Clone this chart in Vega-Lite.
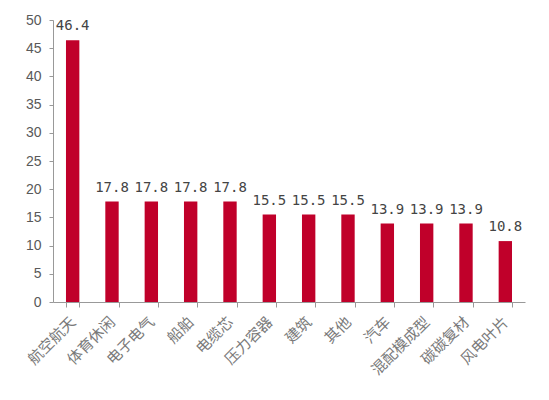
{
  "$schema": "https://vega.github.io/schema/vega-lite/v6.json",
  "width": 472,
  "height": 282,
  "autosize": {"type": "none"},
  "padding": {"left": 53, "top": 20, "right": 24, "bottom": 98},
  "background": "white",
  "config": {"view": {"stroke": null}, "font": "Noto Sans CJK SC"},
  "data": {
    "values": [
      {"category": "航空航天", "value": 46.4},
      {"category": "体育休闲", "value": 17.8},
      {"category": "电子电气", "value": 17.8},
      {"category": "船舶", "value": 17.8},
      {"category": "电缆芯", "value": 17.8},
      {"category": "压力容器", "value": 15.5},
      {"category": "建筑", "value": 15.5},
      {"category": "其他", "value": 15.5},
      {"category": "汽车", "value": 13.9},
      {"category": "混配模成型", "value": 13.9},
      {"category": "碳碳复材", "value": 13.9},
      {"category": "风电叶片", "value": 10.8}
    ]
  },
  "encoding": {
    "x": {
      "field": "category",
      "type": "nominal",
      "sort": null,
      "scale": {"paddingInner": 0.66, "paddingOuter": 0.33},
      "axis": {
        "title": null,
        "labelAngle": -45,
        "labelAlign": "right",
        "labelBaseline": "middle",
        "labelFontSize": 15,
        "labelColor": "#7a7a7a",
        "labelPadding": 12,
        "labelDx": 4,
        "domainColor": "#999999",
        "tickColor": "#999999",
        "tickBand": "extent",
        "tickSize": 5
      }
    },
    "y": {
      "field": "value",
      "type": "quantitative",
      "scale": {"domain": [0, 50]},
      "axis": {
        "title": null,
        "values": [0, 5, 10, 15, 20, 25, 30, 35, 40, 45, 50],
        "grid": false,
        "labelFontSize": 14,
        "labelFont": "Liberation Sans",
        "labelColor": "#595959",
        "labelPadding": 8,
        "domainColor": "#999999",
        "tickColor": "#999999",
        "tickSize": 4
      }
    }
  },
  "layer": [
    {"mark": {"type": "bar", "color": "#C0002A"}},
    {
      "mark": {"type": "text", "baseline": "bottom", "dy": -7, "fontSize": 14, "color": "#444444", "font": "DejaVu Sans Mono"},
      "encoding": {"text": {"field": "value", "type": "quantitative", "format": ".1f"}}
    }
  ]
}
